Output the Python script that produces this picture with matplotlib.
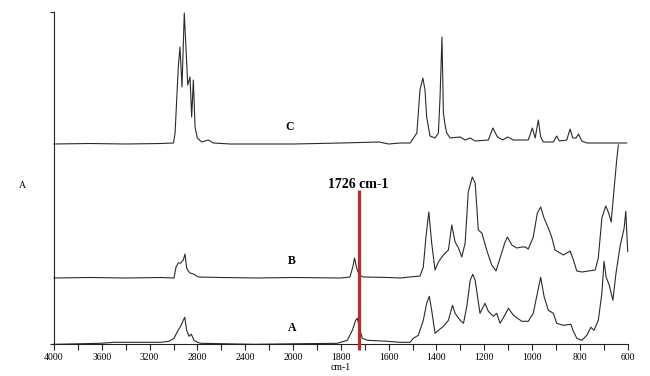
import matplotlib
matplotlib.use('Agg')
import matplotlib.pyplot as plt
import numpy as np

# FTIR spectra: wavenumber (cm-1) and absorbance
# above each trace's own baseline. Traces are stacked with offsets.
c_wn = [4000, 3700, 3400, 3100, 3000, 2987, 2960, 2946, 2929, 2910, 2895, 2881, 2862, 2848, 2834,
        2820, 2801, 2764, 2709, 2667, 2527, 2300, 2000, 1800, 1640, 1600, 1552, 1510, 1482, 1469,
        1457, 1448, 1441, 1427, 1406, 1392, 1385, 1377, 1371, 1364, 1357, 1343, 1301, 1280, 1259,
        1238, 1183, 1164, 1145, 1123, 1103, 1078, 1016, 999, 987, 974, 964, 953, 911, 897,
        886, 855, 841, 830, 816, 806, 792, 771, 604]
c_abs = [0.0, 0.005, 0.0, 0.005, 0.01, 0.11, 0.77, 0.97, 0.57, 1.31, 0.94, 0.59, 0.67, 0.27, 0.64,
         0.17, 0.06, 0.02, 0.04, 0.01, 0.0, 0.0, 0.0, 0.01, 0.02, 0.0, 0.01, 0.01, 0.11, 0.54,
         0.66, 0.54, 0.27, 0.08, 0.06, 0.11, 0.47, 1.07, 0.31, 0.19, 0.11, 0.06, 0.07, 0.04, 0.06,
         0.03, 0.04, 0.16, 0.07, 0.04, 0.07, 0.04, 0.04, 0.16, 0.06, 0.24, 0.07, 0.02, 0.02, 0.08,
         0.03, 0.04, 0.15, 0.06, 0.06, 0.10, 0.03, 0.01, 0.01]

b_wn = [4000, 3700, 3400, 3100, 2996, 2979, 2960, 2940, 2918, 2904, 2890, 2876, 2862, 2834, 2792,
        2600, 2300, 2000, 1800, 1762, 1750, 1743, 1734, 1723, 1706, 1600, 1552, 1469, 1455, 1444,
        1432, 1420, 1406, 1392, 1371, 1350, 1336, 1322, 1308, 1294, 1280, 1267, 1250, 1238, 1225,
        1210, 1190, 1169, 1151, 1134, 1113, 1103, 1085, 1064, 1043, 1029, 1016, 995, 978, 964,
        950, 932, 918, 904, 869, 841, 827, 813, 792, 736, 723, 708, 692, 681, 669,
        660, 646, 639]
b_abs = [0.0, 0.005, 0.0, 0.005, 0.0, 0.11, 0.15, 0.15, 0.18, 0.24, 0.10, 0.07, 0.05, 0.04, 0.01,
         0.005, 0.0, 0.005, 0.0, 0.01, 0.11, 0.20, 0.10, 0.03, 0.01, 0.005, 0.0, 0.02, 0.11, 0.41,
         0.66, 0.35, 0.08, 0.16, 0.23, 0.28, 0.53, 0.36, 0.30, 0.21, 0.35, 0.86, 1.01, 0.95, 0.48,
         0.45, 0.28, 0.13, 0.07, 0.20, 0.36, 0.41, 0.33, 0.30, 0.31, 0.31, 0.29, 0.41, 0.65, 0.71,
         0.60, 0.50, 0.41, 0.28, 0.23, 0.27, 0.18, 0.07, 0.06, 0.08, 0.20, 0.60, 0.72, 0.66, 0.56,
         0.81, 1.18, 1.33]

a_wn = [4000, 3609, 3498, 3107, 3038, 2996, 2962, 2940, 2918, 2906, 2890, 2870, 2851, 2828, 2801,
        2772, 2326, 2000, 1815, 1773, 1752, 1738, 1731, 1720, 1710, 1689, 1605, 1552, 1510, 1497,
        1476, 1455, 1441, 1430, 1420, 1406, 1392, 1371, 1350, 1333, 1322, 1301, 1287, 1273, 1259,
        1248, 1238, 1218, 1197, 1183, 1162, 1148, 1134, 1117, 1099, 1078, 1043, 1016, 995, 978,
        964, 950, 932, 911, 897, 869, 838, 827, 813, 792, 771, 754, 741, 723, 708,
        699, 690, 677, 662, 649, 632, 615, 608, 600]
a_abs = [0.0, 0.01, 0.02, 0.02, 0.03, 0.06, 0.14, 0.18, 0.24, 0.27, 0.14, 0.08, 0.10, 0.04, 0.02,
         0.01, 0.0, 0.005, 0.01, 0.04, 0.14, 0.24, 0.26, 0.14, 0.06, 0.04, 0.03, 0.02, 0.02, 0.06,
         0.09, 0.24, 0.41, 0.48, 0.34, 0.11, 0.14, 0.18, 0.24, 0.39, 0.31, 0.24, 0.21, 0.38, 0.64,
         0.70, 0.64, 0.31, 0.41, 0.33, 0.28, 0.31, 0.21, 0.28, 0.36, 0.29, 0.23, 0.23, 0.31, 0.51,
         0.67, 0.48, 0.34, 0.31, 0.21, 0.19, 0.20, 0.13, 0.06, 0.04, 0.09, 0.17, 0.14, 0.24, 0.51,
         0.83, 0.67, 0.59, 0.44, 0.71, 0.98, 1.16, 1.33, 0.93]

traces = [("A", a_wn, a_abs, 0.0), ("B", b_wn, b_abs, 0.663), ("C", c_wn, c_abs, 2.003)]
marker_wn = 1726

major_ticks = [4000, 3600, 3200, 2800, 2400, 2000, 1800, 1600, 1400, 1200, 1000, 800, 600]
minor_ticks = [3800, 3400, 3000, 2600, 2200, 1900, 1700, 1500, 1300, 1100, 900, 700]

serif = "Liberation Serif"


# usual FTIR display: region above 2000 cm-1 compressed by half
def fwd(x):
    x = np.asarray(x, dtype=float)
    return np.where(x >= 2000, 2000 + (x - 2000) / 2.0, x)


def inv(y):
    y = np.asarray(y, dtype=float)
    return np.where(y >= 2000, 2000 + (y - 2000) * 2.0, y)


fig = plt.figure(figsize=(6.5, 3.76), dpi=100)
ax = fig.add_axes([54 / 650, (376 - 344.3) / 376, (627.7 - 54) / 650, (344.3 - 12) / 376])

ax.set_xscale('function', functions=(fwd, inv))
ax.set_xlim(4000, 600)
ax.set_ylim(0, 3.323)

for name, wn, ab, off in traces:
    ax.plot(wn, np.array(ab) + off, color='#2a2a2a', lw=0.8, clip_on=False)

# marker line for the carbonyl band
ax.plot([marker_wn, marker_wn], [-0.06, 1.54], color='#c62828', lw=2.3,
        solid_capstyle='butt', clip_on=False, zorder=5)
ax.text(marker_wn, 1.60, "1726 cm-1", ha='center', va='center', fontsize=10,
        fontweight='bold', family=serif)

# trace labels
ax.text(2025, 2.17, "C", ha='center', va='center', fontsize=8.5, fontweight='bold', family=serif)
ax.text(2011, 0.83, "B", ha='center', va='center', fontsize=8.5, fontweight='bold', family=serif)
ax.text(2006, 0.16, "A", ha='center', va='center', fontsize=8.5, fontweight='bold', family=serif)

for s in ['top', 'right']:
    ax.spines[s].set_visible(False)
for s in ['left', 'bottom']:
    ax.spines[s].set_linewidth(0.8)
    ax.spines[s].set_color('#222222')

ax.set_xticks(major_ticks)
ax.set_xticklabels([str(t) for t in major_ticks], family=serif, fontsize=7)
ax.set_xticks(minor_ticks, minor=True)
ax.tick_params(axis='x', which='both', direction='out', length=4, width=0.8, pad=2, color='#222222')
ax.set_yticks([0, 3.323])
ax.set_yticklabels([])
ax.tick_params(axis='y', direction='out', length=3, width=0.8, color='#222222')

ax.set_xlabel("cm-1", family=serif, fontsize=7, labelpad=1)
fig.text(22 / 650, 1 - 185 / 376, "A", ha='center', va='center', family=serif, fontsize=7)

fig.savefig("out.png", dpi=100)
